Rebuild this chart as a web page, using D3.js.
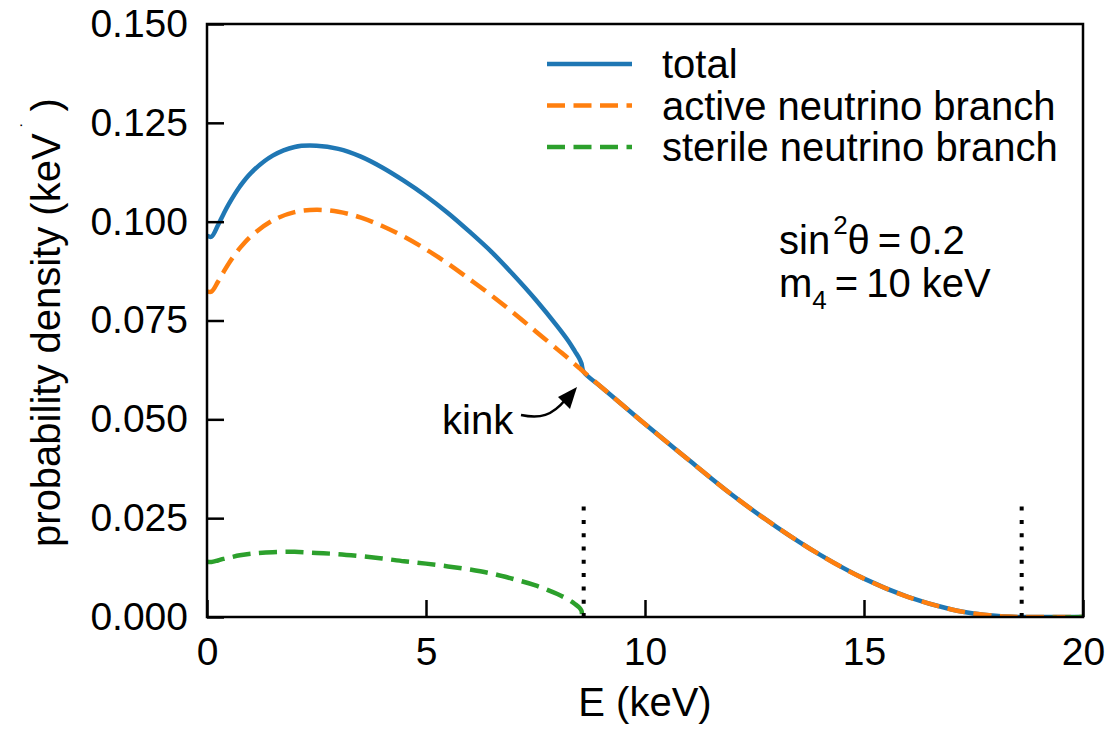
<!DOCTYPE html>
<html>
<head>
<meta charset="utf-8">
<script src="https://cdn.jsdelivr.net/npm/d3@7"></script>
<style>
  body { margin: 0; background: #fff; }
  text { font-family: "Liberation Sans", Arial, sans-serif; fill: #000; }
</style>
</head>
<body>
<svg id="chart" width="1114" height="730"></svg>
<script>
var energy = [0, 0.1, 0.25, 0.375, 0.5, 0.75, 1, 1.5, 2, 2.5, 3, 3.5, 4, 4.5, 5, 5.5, 6, 6.5, 7, 7.5, 8, 8.25, 8.4, 8.5, 8.55, 8.6,
  9, 9.5, 10, 11, 12, 13, 14, 15, 16, 17, 17.5, 18, 18.3, 18.6, 20];
var total = [0.0964, 0.0962, 0.0991, 0.1019, 0.1045, 0.1089, 0.1123, 0.1167, 0.1189, 0.1192, 0.1184, 0.1165, 0.1137, 0.1103,
  0.1065, 0.1022, 0.0974, 0.0923, 0.0865, 0.0803, 0.0735, 0.0698, 0.0672, 0.0654, 0.0641, 0.0620,
  0.0582, 0.0535, 0.0488, 0.0397, 0.0308, 0.0228, 0.0157, 0.0097, 0.0051, 0.0019, 0.0009, 0.0003, 0.0001, 0, 0];
var active = [0.0824, 0.0823, 0.0848, 0.0872, 0.0895, 0.0933, 0.0963, 0.1003, 0.1024, 0.1030, 0.1025, 0.1011, 0.0989, 0.0962,
  0.0930, 0.0894, 0.0854, 0.0813, 0.0769, 0.0723, 0.0677, 0.0654, 0.0639, 0.0630, 0.0625, 0.0620,
  0.0582, 0.0535, 0.0488, 0.0397, 0.0308, 0.0228, 0.0157, 0.0097, 0.0051, 0.0019, 0.0009, 0.0003, 0.0001, 0, 0];
var sterileEnergy = [0, 0.1, 0.25, 0.375, 0.5, 0.75, 1, 1.5, 2, 2.5, 3, 3.5, 4, 4.5, 5, 5.5, 6, 6.5, 7, 7.5, 8, 8.25, 8.4, 8.5, 8.55, 8.6, 20];
var sterile = [0.0140, 0.0139, 0.0143, 0.0147, 0.0150, 0.0156, 0.0160, 0.0164, 0.0165, 0.0162, 0.0159, 0.0154, 0.0148, 0.0141,
  0.0135, 0.0128, 0.0120, 0.0110, 0.0096, 0.0080, 0.0058, 0.0044, 0.0033, 0.0024, 0.0016, 0, 0];

var cutoffs = [8.6, 18.6];      // dotted markers: m4 endpoint and Q value
var cutoffTop = 0.0285;
var xTicks = [0, 5, 10, 15, 20];
var yTicks = [0, 0.025, 0.05, 0.075, 0.1, 0.125, 0.15];
var names = ['total', 'active neutrino branch', 'sterile neutrino branch'];
var colors = ['#1f77b4', '#ff7f0e', '#2ca02c'];

var plotL = 207, plotR = 1083, plotT = 24, plotB = 617;
var dash = '18,8.5';
var svg = d3.select('#chart');

var x = d3.scaleLinear().domain([0, 20]).range([plotL, plotR]);
var y = d3.scaleLinear().domain([0, 0.15]).range([plotB, plotT]);

svg.append('clipPath').attr('id', 'plot')
  .append('rect').attr('x', plotL).attr('y', plotT)
  .attr('width', plotR - plotL).attr('height', plotB - plotT);

var line = d3.line().curve(d3.curveCatmullRom.alpha(0.5));
function pts(xs, ys) { return xs.map(function(e, i) { return [x(e), y(ys[i])]; }); }

var g = svg.append('g').attr('clip-path', 'url(#plot)');
g.append('path').attr('d', line(pts(energy, total)))
  .attr('fill', 'none').attr('stroke', colors[0]).attr('stroke-width', 4.5);
g.append('path').attr('d', line(pts(energy, active)))
  .attr('fill', 'none').attr('stroke', colors[1]).attr('stroke-width', 4.5)
  .attr('stroke-dasharray', dash);
g.append('path').attr('d', line(pts(sterileEnergy, sterile)))
  .attr('fill', 'none').attr('stroke', colors[2]).attr('stroke-width', 4.5)
  .attr('stroke-dasharray', dash);

// dotted vertical markers
cutoffs.forEach(function(c) {
  svg.append('line')
    .attr('x1', x(c)).attr('x2', x(c))
    .attr('y1', y(0)).attr('y2', y(cutoffTop))
    .attr('stroke', '#000').attr('stroke-width', 4)
    .attr('stroke-dasharray', '4,9.3');
});

// axes, ticks inward
var xAxis = d3.axisBottom(x).tickValues(xTicks).tickSize(-17).tickPadding(20)
  .tickFormat(d3.format('d'));
var yAxis = d3.axisLeft(y).tickValues(yTicks).tickSize(-17).tickPadding(19)
  .tickFormat(d3.format('.3f'));

var gx = svg.append('g').attr('transform', 'translate(0,' + plotB + ')').call(xAxis);
var gy = svg.append('g').attr('transform', 'translate(' + plotL + ',0)').call(yAxis);
[gx, gy].forEach(function(a) {
  a.select('.domain').remove();
  a.selectAll('line').attr('stroke', '#000').attr('stroke-width', 2.5);
  a.selectAll('text').attr('font-size', 39).attr('font-family', '"Liberation Sans", Arial, sans-serif');
});
gx.selectAll('text').attr('dy', '0.71em');

svg.append('rect').attr('x', plotL).attr('y', plotT)
  .attr('width', plotR - plotL).attr('height', plotB - plotT)
  .attr('fill', 'none').attr('stroke', '#000').attr('stroke-width', 2.5);

// axis labels
svg.append('text').attr('x', (plotL + plotR) / 2).attr('y', 716)
  .attr('text-anchor', 'middle').attr('font-size', 40).text('E (keV)');

var yl = svg.append('text')
  .attr('transform', 'translate(60,' + ((plotT + plotB) / 2 + 2) + ') rotate(-90)')
  .attr('text-anchor', 'middle').attr('font-size', 40);
yl.append('tspan').text('probability density (keV');
yl.append('tspan').attr('font-size', 18).attr('dx', 6).attr('dy', -26).text('\u02D9');
yl.append('tspan').attr('dx', 10).attr('dy', 26).text(')');

// legend
var legendY = [64, 105.5, 147];
names.forEach(function(n, i) {
  var l = svg.append('line').attr('x1', 547).attr('x2', 632)
    .attr('y1', legendY[i]).attr('y2', legendY[i])
    .attr('stroke', colors[i]).attr('stroke-width', 4.5);
  if (i > 0) l.attr('stroke-dasharray', dash);
  svg.append('text').attr('x', 662).attr('y', legendY[i] + 14)
    .attr('font-size', 40).text(n);
});

// parameter note
var t1 = svg.append('text').attr('x', 779).attr('y', 254).attr('font-size', 40);
t1.append('tspan').text('sin');
t1.append('tspan').attr('font-size', 26).attr('dx', 3).attr('dy', -20).text('2');
t1.append('tspan').attr('dy', 20).text('\u03B8\u2009=\u20090.2');
var t2 = svg.append('text').attr('x', 779).attr('y', 297).attr('font-size', 40);
t2.append('tspan').text('m');
t2.append('tspan').attr('font-size', 26).attr('dy', 12).text('4');
t2.append('tspan').attr('dy', -12).text('\u2009=\u200910 keV');

// kink annotation
svg.append('text').attr('x', 442).attr('y', 434).attr('font-size', 40).text('kink');
svg.append('path')
  .attr('d', 'M521,415 C540,419 552,416 566,399')
  .attr('fill', 'none').attr('stroke', '#000').attr('stroke-width', 2.5);
svg.append('path')
  .attr('d', 'M577,387 L570,409 L558,397 Z')
  .attr('fill', '#000');
</script>
</body>
</html>
